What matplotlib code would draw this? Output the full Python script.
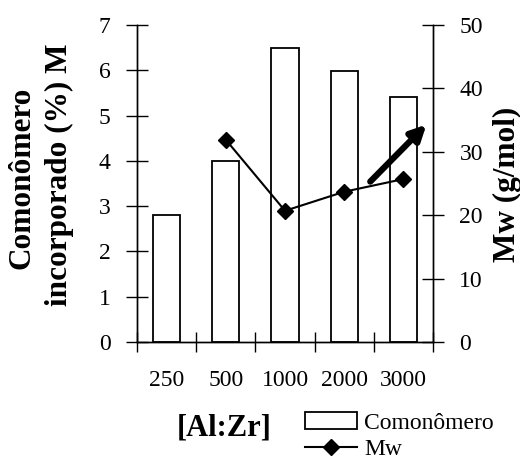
import numpy as np
import matplotlib
matplotlib.use("Agg")
import matplotlib.pyplot as plt
from matplotlib.patches import Patch
from matplotlib.lines import Line2D

# razao Al:Zr
ratios = ["250", "500", "1000", "2000", "3000"]
comonomer = [2.8, 4.0, 6.5, 5.98, 5.4]
mw_ratios = ["500", "1000", "2000", "3000"]
mw = [31.9, 20.7, 23.7, 25.7]

plt.rcParams["font.family"] = ["Liberation Serif", "DejaVu Serif"]

fig = plt.figure(figsize=(5.2, 4.59), dpi=100)
ax = fig.add_axes([0.2635, 0.2549, 0.5692, 0.6906])
ax2 = ax.twinx()

x = np.arange(len(ratios))
ax.bar(x, comonomer, width=0.46, facecolor="white", edgecolor="black", linewidth=1.3, zorder=2)
ax.set_xlim(-0.5, len(ratios) - 0.5)
ax.set_ylim(0, 7)
ax.set_yticks(range(0, 8))

xm = [ratios.index(r) for r in mw_ratios]
ax2.plot(xm, mw, color="black", lw=1.5, marker="D", markersize=8, zorder=3)
ax2.set_ylim(0, 50)
ax2.set_yticks(range(0, 51, 10))

# tendency arrow
ax2.annotate("", xy=(4.39, 34.3), xytext=(3.44, 25.3),
             arrowprops=dict(arrowstyle="-|>,head_length=0.9,head_width=0.45", lw=4.5,
                             color="black", shrinkA=0, shrinkB=0))

ax.set_xticks(x)
ax.set_xticklabels(ratios, fontsize=17)
ax.set_xticks(np.arange(-0.5, len(ratios)), minor=True)
ax.tick_params(axis="x", which="major", length=0, pad=20)
ax.tick_params(axis="x", which="minor", direction="inout", length=14, width=1)
ax.tick_params(axis="y", direction="inout", length=16, width=1, labelsize=17, pad=11)
ax2.tick_params(axis="y", direction="inout", length=16, width=1, labelsize=17, pad=11)

for a in (ax, ax2):
    a.spines["top"].set_visible(False)
    for s in ("left", "right", "bottom"):
        a.spines[s].set_linewidth(1)

fig.text(22 / 520, 1 - 178 / 459, "Comonômero", rotation=90, fontsize=22.5,
         fontweight="bold", ha="center", va="center")
fig.text(59 / 520, 1 - 175 / 459, "incorporado (%) M", rotation=90, fontsize=22.5,
         fontweight="bold", ha="center", va="center")
fig.text(507 / 520, 1 - 184 / 459, "Mw (g/mol)", rotation=90, fontsize=22.5,
         fontweight="bold", ha="center", va="center")
fig.text(224 / 520, 1 - 428 / 459, "[Al:Zr]", fontsize=22, fontweight="bold",
         ha="center", va="center")

handles = [Patch(facecolor="white", edgecolor="black", linewidth=1.3),
           Line2D([], [], color="black", lw=1.5, marker="D", markersize=8)]
fig.legend(handles, ["Comonômero", "Mw"], loc="upper left",
           bbox_to_anchor=(305 / 520, 1 - 412 / 459), frameon=False, fontsize=17,
           handlelength=2.2, handletextpad=0.3, labelspacing=0.2, borderpad=0,
           borderaxespad=0)

fig.savefig("out.png", dpi=100)
